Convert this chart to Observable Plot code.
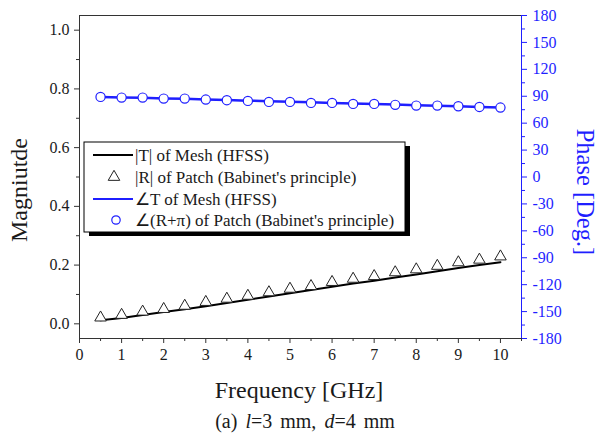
<!DOCTYPE html>
<html><head><meta charset="utf-8">
<script src="https://cdn.jsdelivr.net/npm/d3@7"></script>
<script src="https://cdn.jsdelivr.net/npm/@observablehq/plot@0.6"></script>
<style>body{margin:0;background:#fff;} svg{display:block;}</style>
</head><body><div id="chart"></div>
<script>
const freq = [0.5,1,1.5,2,2.5,3,3.5,4,4.5,5,5.5,6,6.5,7,7.5,8,8.5,9,9.5,10];
const magMesh = [0.012,0.020,0.030,0.040,0.050,0.060,0.071,0.082,0.093,0.104,0.115,0.126,0.137,0.147,0.158,0.168,0.179,0.190,0.200,0.210];
const magPatch = [0.021,0.030,0.041,0.050,0.061,0.074,0.085,0.095,0.107,0.119,0.128,0.142,0.153,0.162,0.175,0.185,0.197,0.209,0.218,0.229];
const phaseMesh = [89.3,88.7,88.3,87.6,87.2,86.5,85.8,85.1,84.5,83.9,83.2,82.6,82.0,81.4,80.7,80.1,79.4,78.8,78.1,77.4];
const phasePatch = [89.3,88.5,88.5,87.4,87.4,86.3,85.6,84.8,83.7,83.7,82.6,82.6,81.5,81.5,80.4,79.6,79.6,78.9,78.1,77.4];
const xTicks = [0,1,2,3,4,5,6,7,8,9,10];
const magTicks = [0,0.2,0.4,0.6,0.8,1.0];
const phaseTicks = [-180,-150,-120,-90,-60,-30,0,30,60,90,120,150,180];
const legendLabels = ["|T| of Mesh (HFSS)","|R| of Patch (Babinet's principle)","\u2220T of Mesh (HFSS)","\u2220(R+\u03c0) of Patch (Babinet's principle)"];

const yMin = -0.05, yMax = 1.05;
const toY = p => yMin + (p + 180) / 360 * (yMax - yMin);
const fromY = v => (v - yMin) / (yMax - yMin) * 360 - 180;

const data = freq.map((f,i) => ({f, mt: magMesh[i], mp: magPatch[i], pt: phaseMesh[i], pp: phasePatch[i]}));
const blue = "#1f1fff";
const ink = "#1a1a1a";

const minorX = d3.range(0.5, 10.51, 1);
const minorMag = [0.1,0.3,0.5,0.7,0.9];
const minorPhase = d3.range(-165, 180, 30);

const svg = Plot.plot({
  width: 606, height: 445,
  marginLeft: 79, marginRight: 85, marginTop: 15, marginBottom: 107,
  style: {fontFamily: "'Liberation Serif','Times New Roman',serif", fontSize: "16px", background: "#fff"},
  x: {domain: [0, 10.5], axis: null},
  y: {domain: [yMin, yMax], axis: null},
  marks: [
    Plot.ruleY([yMin, yMax], {stroke: "#333", strokeWidth: 1}),
    Plot.ruleX([0], {stroke: "#333", strokeWidth: 1}),
    Plot.ruleX([10.5], {stroke: blue, strokeWidth: 1}),
    Plot.axisX(xTicks, {anchor: "bottom", tickSize: 5, tickPadding: 5, tickFormat: d => String(d), fill: ink, stroke: "#333", label: null}),
    Plot.axisX(minorX, {anchor: "bottom", tickSize: 3, tickFormat: () => "", stroke: "#333", label: null}),
    Plot.axisY(magTicks, {anchor: "left", tickSize: 5, tickPadding: 5, tickFormat: d3.format(".1f"), fill: ink, stroke: "#333", label: null}),
    Plot.axisY(minorMag, {anchor: "left", tickSize: 3, tickFormat: () => "", stroke: "#333", label: null}),
    Plot.axisY(phaseTicks.map(toY), {anchor: "right", tickSize: 5, tickPadding: 6, tickFormat: v => String(Math.round(fromY(v))), fill: blue, stroke: blue, label: null}),
    Plot.axisY(minorPhase.map(toY), {anchor: "right", tickSize: 3, tickFormat: () => "", stroke: blue, label: null}),
    Plot.line(data, {x: "f", y: "mt", stroke: "#000", strokeWidth: 2}),
    Plot.dot(data, {x: "f", y: "mp", symbol: "triangle", r: 4.3, stroke: "#222", fill: "#fff", strokeWidth: 1}),
    Plot.line(data, {x: "f", y: d => toY(d.pt), stroke: blue, strokeWidth: 2.5}),
    Plot.dot(data, {x: "f", y: d => toY(d.pp), r: 4.6, stroke: blue, fill: "#fff", strokeWidth: 1.2})
  ]
});

const s = d3.select(svg);
const serif = "'Liberation Serif','Times New Roman',serif";
s.append("text").attr("transform", "translate(27,190) rotate(-90)").attr("text-anchor", "middle")
  .attr("font-family", serif).attr("font-size", 24).attr("fill", ink).text("Magniutde");
s.append("text").attr("transform", "translate(577,192) rotate(90)").attr("text-anchor", "middle")
  .attr("font-family", serif).attr("font-size", 24.5).attr("fill", blue).text("Phase [Deg.]");
s.append("text").attr("x", 299).attr("y", 398).attr("text-anchor", "middle")
  .attr("font-family", serif).attr("font-size", 24).attr("fill", ink).text("Frequency [GHz]");
const cap = s.append("text").attr("x", 305).attr("y", 428).attr("text-anchor", "middle")
  .attr("font-family", serif).attr("font-size", 20).attr("fill", ink);
cap.append("tspan").text("(a)");
cap.append("tspan").attr("dx", 8).attr("font-style", "italic").text("l");
cap.append("tspan").text("=3");
cap.append("tspan").attr("dx", 8).text("mm,");
cap.append("tspan").attr("dx", 8).attr("font-style", "italic").text("d");
cap.append("tspan").text("=4");
cap.append("tspan").attr("dx", 8).text("mm");

// legend
const lg = s.append("g").attr("font-family", serif).attr("font-size", 17).attr("fill", ink).attr("text-anchor", "start");
lg.append("rect").attr("x", 89).attr("y", 146).attr("width", 321).attr("height", 90).attr("fill", "#000");
lg.append("rect").attr("x", 84).attr("y", 142).attr("width", 321).attr("height", 90).attr("fill", "#fff").attr("stroke", "#000").attr("stroke-width", 1);
const rowsY = [155, 177, 199, 220];
lg.append("line").attr("x1", 93).attr("x2", 133).attr("y1", rowsY[0]).attr("y2", rowsY[0]).attr("stroke", "#000").attr("stroke-width", 2);
lg.append("path").attr("d", d3.symbol(d3.symbolTriangle, 4.3*4.3*Math.PI)()).attr("transform", `translate(114,${rowsY[1]})`).attr("fill", "#fff").attr("stroke", "#222");
lg.append("line").attr("x1", 93).attr("x2", 133).attr("y1", rowsY[2]).attr("y2", rowsY[2]).attr("stroke", blue).attr("stroke-width", 2);
lg.append("circle").attr("cx", 116).attr("cy", rowsY[3]).attr("r", 4.2).attr("fill", "#fff").attr("stroke", blue).attr("stroke-width", 1.2);
legendLabels.forEach((t, i) => {
  lg.append("text").attr("x", 135).attr("y", rowsY[i] + 5.5).attr("text-anchor", "start").text(t);
});

document.getElementById("chart").appendChild(svg);
</script>
</body></html>
